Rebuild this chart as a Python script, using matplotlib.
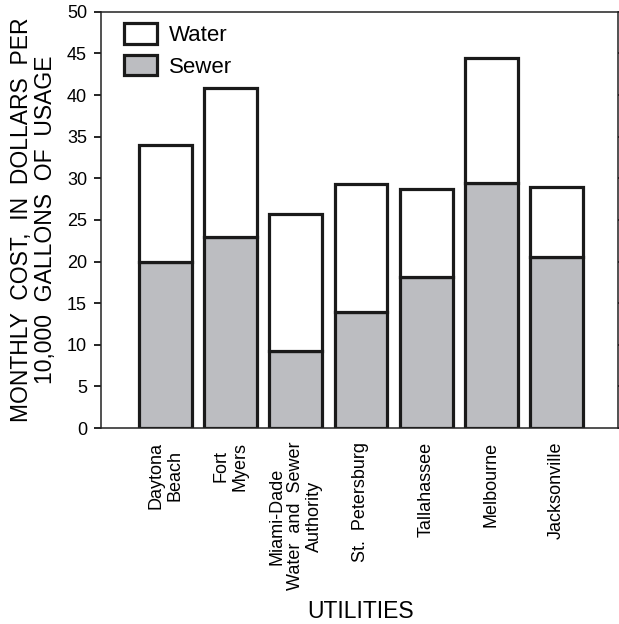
import matplotlib.pyplot as plt
import numpy as np

plt.rcParams['font.family'] = ['Liberation Sans', 'DejaVu Sans']

# Данные
utilities = ['Daytona\nBeach', 'Fort\nMyers', 'Miami-Dade\nWater  and  Sewer\nAuthority',
             'St.  Petersburg', 'Tallahassee', 'Melbourne', 'Jacksonville']
sewer = [20.0, 23.0, 9.2, 13.9, 18.2, 29.5, 20.5]
total = [34.0, 40.9, 25.7, 29.3, 28.7, 44.5, 28.9]
water = [t - s for t, s in zip(total, sewer)]

fig = plt.figure(figsize=(6.19, 6.24), dpi=100)
ax = fig.add_axes([0.163, 0.314, 0.835, 0.667])

x = np.arange(len(utilities))
ax.bar(x, sewer, width=0.81, color='#bcbdc1', edgecolor='#1a1a1a', linewidth=2.3, label='Sewer')
ax.bar(x, water, width=0.81, bottom=sewer, color='white', edgecolor='#1a1a1a', linewidth=2.3, label='Water')

ax.set_xlim(-0.99, 6.94)
ax.set_ylim(0, 50)
ax.set_yticks(np.arange(0, 51, 5))
ax.set_xticks(x)
ax.set_xticklabels(utilities, rotation=90, fontsize=13, ha='center', va='top', multialignment='center',
                   linespacing=1.1)
ax.tick_params(axis='x', length=0, pad=10)
ax.tick_params(axis='y', direction='out', length=5, width=1.2, labelsize=13, pad=5,
               right=True)
for t in ax.yaxis.get_major_ticks():
    t.tick2line.set_markersize(3)
for s in ax.spines.values():
    s.set_linewidth(1.1)
    s.set_color('#222222')

ax.set_ylabel('MONTHLY  COST,  IN  DOLLARS  PER\n10,000  GALLONS  OF  USAGE',
              fontsize=16.5, linespacing=1.05, labelpad=7)
fig.text(0.583, 1 - 612 / 624, 'UTILITIES', fontsize=16.5, ha='center', va='center')

handles, labels = ax.get_legend_handles_labels()
ax.legend(handles[::-1], labels[::-1], loc='upper left', bbox_to_anchor=(0.044, 0.973),
          fontsize=16, frameon=False, borderpad=0, borderaxespad=0,
          handlelength=1.5, handleheight=1.05, labelspacing=0.4, handletextpad=0.55)

fig.savefig('out.png', dpi=100)
